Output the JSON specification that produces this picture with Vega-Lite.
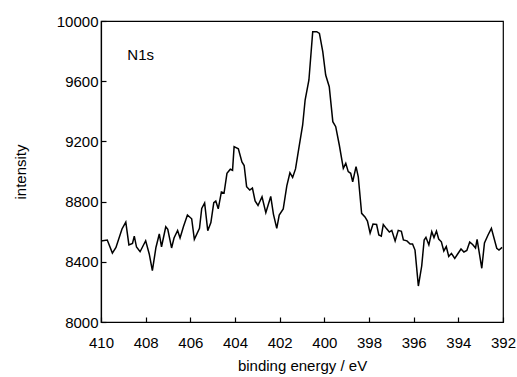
{
  "$schema": "https://vega.github.io/schema/vega-lite/v6.json",
  "autosize": {"type": "none"},
  "padding": {"left": 101, "top": 21, "right": 14, "bottom": 55},
  "width": 402,
  "height": 301,
  "background": "white",
  "view": {"stroke": "black", "strokeWidth": 1.2},
  "config": {
    "font": "Liberation Sans",
    "axis": {
      "domainColor": "black", "tickColor": "black", "labelColor": "black", "titleColor": "black",
      "labelFontSize": 15, "titleFontSize": 15, "titleFontWeight": "normal",
      "grid": false, "tickSize": -5, "domainWidth": 1.2, "tickWidth": 1.2
    }
  },
  "datasets": {
    "spectrum": [
      {"be": 410.00, "i": 8538}, {"be": 409.72, "i": 8545}, {"be": 409.49, "i": 8458}, {"be": 409.33, "i": 8495},
      {"be": 409.06, "i": 8618}, {"be": 408.89, "i": 8664}, {"be": 408.75, "i": 8512}, {"be": 408.59, "i": 8522},
      {"be": 408.51, "i": 8571}, {"be": 408.41, "i": 8498}, {"be": 408.25, "i": 8467}, {"be": 408.00, "i": 8540},
      {"be": 407.84, "i": 8452}, {"be": 407.70, "i": 8341}, {"be": 407.54, "i": 8495}, {"be": 407.39, "i": 8585},
      {"be": 407.29, "i": 8500}, {"be": 407.10, "i": 8633}, {"be": 407.01, "i": 8616}, {"be": 406.84, "i": 8492},
      {"be": 406.73, "i": 8558}, {"be": 406.57, "i": 8608}, {"be": 406.46, "i": 8558}, {"be": 406.31, "i": 8633},
      {"be": 406.13, "i": 8711}, {"be": 405.94, "i": 8686}, {"be": 405.82, "i": 8549}, {"be": 405.59, "i": 8622},
      {"be": 405.49, "i": 8755}, {"be": 405.36, "i": 8791}, {"be": 405.22, "i": 8607}, {"be": 405.08, "i": 8661},
      {"be": 404.95, "i": 8793}, {"be": 404.86, "i": 8804}, {"be": 404.75, "i": 8752}, {"be": 404.61, "i": 8864},
      {"be": 404.49, "i": 8857}, {"be": 404.36, "i": 8988}, {"be": 404.21, "i": 9015}, {"be": 404.11, "i": 9008},
      {"be": 404.04, "i": 9165}, {"be": 403.85, "i": 9151}, {"be": 403.69, "i": 9063}, {"be": 403.59, "i": 9040},
      {"be": 403.48, "i": 8899}, {"be": 403.34, "i": 8877}, {"be": 403.22, "i": 8890}, {"be": 403.10, "i": 8804},
      {"be": 402.97, "i": 8774}, {"be": 402.79, "i": 8832}, {"be": 402.62, "i": 8726}, {"be": 402.40, "i": 8834},
      {"be": 402.28, "i": 8717}, {"be": 402.13, "i": 8622}, {"be": 402.02, "i": 8711}, {"be": 401.84, "i": 8751},
      {"be": 401.68, "i": 8904}, {"be": 401.54, "i": 8992}, {"be": 401.42, "i": 8961}, {"be": 401.29, "i": 9017},
      {"be": 401.13, "i": 9165}, {"be": 400.97, "i": 9309}, {"be": 400.86, "i": 9475}, {"be": 400.69, "i": 9608},
      {"be": 400.52, "i": 9929}, {"be": 400.34, "i": 9929}, {"be": 400.22, "i": 9918}, {"be": 400.07, "i": 9796},
      {"be": 399.94, "i": 9641}, {"be": 399.78, "i": 9563}, {"be": 399.62, "i": 9331}, {"be": 399.49, "i": 9298},
      {"be": 399.33, "i": 9176}, {"be": 399.15, "i": 9021}, {"be": 399.04, "i": 9054}, {"be": 398.93, "i": 8999},
      {"be": 398.82, "i": 8988}, {"be": 398.73, "i": 8932}, {"be": 398.58, "i": 9032}, {"be": 398.48, "i": 8965},
      {"be": 398.33, "i": 8722}, {"be": 398.18, "i": 8698}, {"be": 398.07, "i": 8671}, {"be": 397.95, "i": 8591},
      {"be": 397.82, "i": 8651}, {"be": 397.66, "i": 8648}, {"be": 397.56, "i": 8578}, {"be": 397.45, "i": 8571},
      {"be": 397.36, "i": 8648}, {"be": 397.21, "i": 8619}, {"be": 397.09, "i": 8598}, {"be": 396.98, "i": 8609},
      {"be": 396.83, "i": 8538}, {"be": 396.69, "i": 8609}, {"be": 396.55, "i": 8603}, {"be": 396.46, "i": 8545},
      {"be": 396.30, "i": 8539}, {"be": 396.16, "i": 8518}, {"be": 396.05, "i": 8518}, {"be": 395.94, "i": 8478},
      {"be": 395.79, "i": 8239}, {"be": 395.64, "i": 8372}, {"be": 395.53, "i": 8545}, {"be": 395.45, "i": 8563},
      {"be": 395.32, "i": 8512}, {"be": 395.19, "i": 8600}, {"be": 395.09, "i": 8561}, {"be": 394.98, "i": 8604},
      {"be": 394.88, "i": 8551}, {"be": 394.76, "i": 8533}, {"be": 394.65, "i": 8472}, {"be": 394.54, "i": 8501},
      {"be": 394.43, "i": 8436}, {"be": 394.31, "i": 8456}, {"be": 394.16, "i": 8423}, {"be": 394.03, "i": 8452},
      {"be": 393.88, "i": 8485}, {"be": 393.75, "i": 8465}, {"be": 393.62, "i": 8475}, {"be": 393.49, "i": 8531},
      {"be": 393.36, "i": 8515}, {"be": 393.23, "i": 8492}, {"be": 393.16, "i": 8549}, {"be": 392.95, "i": 8357},
      {"be": 392.83, "i": 8525}, {"be": 392.67, "i": 8578}, {"be": 392.52, "i": 8622}, {"be": 392.28, "i": 8490},
      {"be": 392.18, "i": 8478}, {"be": 392.04, "i": 8496}
    ],
    "label": [{"be": 408.82, "i": 9774, "t": "N1s"}]
  },
  "layer": [
    {
      "data": {"name": "spectrum"},
      "mark": {"type": "line", "color": "black", "strokeWidth": 1.5, "clip": true},
      "encoding": {
        "x": {
          "field": "be", "type": "quantitative",
          "scale": {"domain": [410, 392], "nice": false, "zero": false},
          "axis": {"title": "binding energy / eV", "format": "d", "values": [410, 408, 406, 404, 402, 400, 398, 396, 394, 392], "labelPadding": 18, "titlePadding": 8, "labelFlush": false, "labelOverlap": false}
        },
        "y": {
          "field": "i", "type": "quantitative",
          "scale": {"domain": [8000, 10000], "nice": false, "zero": false},
          "axis": {"title": "intensity", "format": "d", "values": [8000, 8400, 8800, 9200, 9600, 10000], "labelPadding": 8, "titlePadding": 28, "labelFlush": false, "labelOverlap": false}
        }
      }
    },
    {
      "data": {"name": "label"},
      "mark": {"type": "text", "align": "left", "baseline": "middle", "fontSize": 15, "color": "black"},
      "encoding": {
        "x": {"field": "be", "type": "quantitative"},
        "y": {"field": "i", "type": "quantitative"},
        "text": {"field": "t"}
      }
    }
  ]
}
